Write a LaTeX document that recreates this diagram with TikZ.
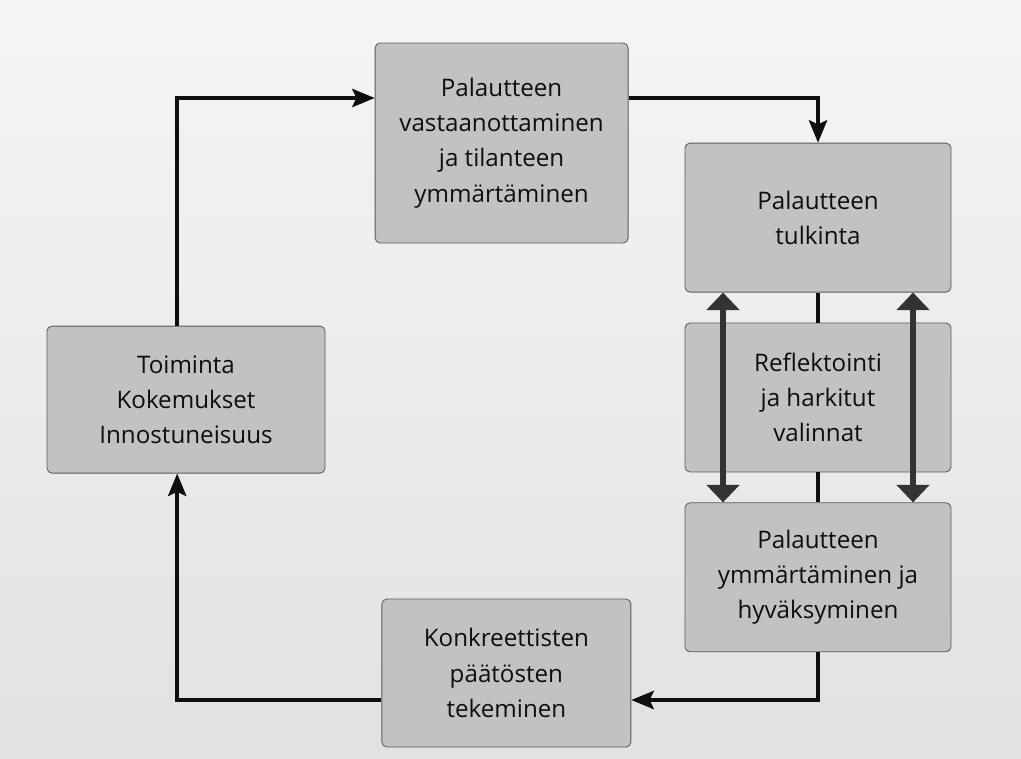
\documentclass[tikz,border=0pt]{standalone}
\usepackage{fontspec}
\setmainfont{Open Sans}
\usepackage{tikz}
\usetikzlibrary{arrows.meta, positioning}
\definecolor{pagebg}{HTML}{EEEEEC}
\definecolor{pagebgdark}{HTML}{E2E2E0}
\definecolor{boxgray}{HTML}{C2C2C2}
\definecolor{boxline}{HTML}{5A5A5A}
\definecolor{inkdark}{HTML}{0E0E0E}

\begin{document}
\begin{tikzpicture}[
  node distance=0.75cm,
  stage/.style={rectangle, draw=boxline, line width=0.6pt, fill=boxgray,
                rounded corners=3.5pt, text=inkdark, align=center,
                font=\fontsize{17.2}{25}\selectfont, inner sep=0pt},
  arr/.style={-{Stealth[length=16pt,width=13pt,inset=3pt]}, line width=2.6pt,
              color=inkdark},
  link/.style={line width=2.4pt, color=inkdark},
  dblarr/.style={{Triangle[length=12.5pt,width=23pt]}-{Triangle[length=12.5pt,width=23pt]},
                 line width=4pt, color=black!80},
]

%% page background
\fill[top color=pagebg!60!white, bottom color=pagebgdark] (0,0) rectangle (25.525,-18.95);
\useasboundingbox (0,0) rectangle (25.525,-18.95);

%% STAGES
\node[stage, minimum width=6.325cm, minimum height=5cm] (vast) at (12.54,-3.575)
  {Palautteen\\vastaanottaminen\\ja tilanteen\\ymmärtäminen};
\node[stage, minimum width=6.65cm, minimum height=3.725cm] (tulk) at (20.45,-5.44)
  {Palautteen\\tulkinta};
\node[stage, minimum width=6.65cm, minimum height=3.725cm, below=of tulk] (refl)
  {Reflektointi\\ja harkitut\\valinnat};
\node[stage, minimum width=6.65cm, minimum height=3.725cm, below=of refl] (hyva)
  {Palautteen\\ymmärtäminen ja\\hyväksyminen};
\node[stage, minimum width=6.225cm, minimum height=3.7cm] (paat) at (12.66,-16.825)
  {Konkreettisten\\päätösten\\tekeminen};
\node[stage, minimum width=6.95cm, minimum height=3.675cm] (toim) at (4.65,-9.99)
  {Toiminta\\Kokemukset\\Innostuneisuus};

%% helper lines of the loop
\coordinate (topln) at (0,-2.45);
\coordinate (botln) at (0,-17.5);
\coordinate (leftln) at (4.43,0);

%% outer loop
\draw[arr] (toim.north -| leftln) |- (vast.west |- topln);
\draw[arr] (vast.east |- topln) -| (tulk.north);
\draw[arr] (hyva.south) |- (paat.east |- botln);
\draw[arr] (paat.west |- botln) -| (toim.south -| leftln);

%% right column
\draw[link] (tulk.south) -- (refl.north);
\draw[link] (refl.south) -- (hyva.north);
\draw[dblarr] ([xshift=-2.375cm]tulk.south) -- ([xshift=-2.375cm]hyva.north);
\draw[dblarr] ([xshift=2.375cm]tulk.south) -- ([xshift=2.375cm]hyva.north);

\end{tikzpicture}
\end{document}
